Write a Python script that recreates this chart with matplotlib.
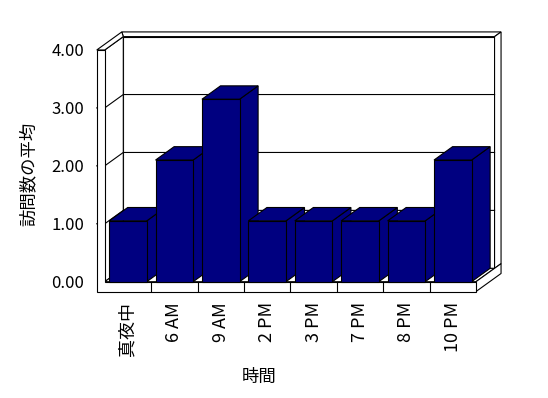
import matplotlib.pyplot as plt
from matplotlib.patches import Polygon
import numpy as np

plt.rcParams['font.family'] = ['Noto Sans CJK JP', 'DejaVu Sans']

# データ
categories = ['真夜中', '6 AM', '9 AM', '2 PM', '3 PM', '7 PM', '8 PM', '10 PM']
values = [1.05, 2.10, 3.15, 1.05, 1.05, 1.05, 1.05, 2.10]
yticks = [0, 1, 2, 3, 4]
ytick_labels = ['0.00', '1.00', '2.00', '3.00', '4.00']

bar_color = '#000080'
DX, DY = 0.40, 0.231      # 奥行き方向のずれ (データ単位)
wall = 0.172              # 左壁の厚さ
floor_h = 0.17            # 床の厚さ
back_t = 0.35             # 奥壁の厚さ (奥行き比)
bar_w = 0.81
n = len(categories)
x0, x1 = -0.5, n - 0.5
ymax = yticks[-1]
xo = x0 - wall
yb = -floor_h


def p(x, y, d):
    return (x + d * DX, y + d * DY)


fig = plt.figure(figsize=(5.48, 3.98), dpi=100)
ax = fig.add_axes([0.1911, 0.2922, 0.6775, 0.5822])
ax.set_xlim(x0, x1)
ax.set_ylim(0, ymax)
ax.patch.set_visible(False)
for s in ax.spines.values():
    s.set_visible(False)


def face(pts, z, fc='white'):
    ax.add_patch(Polygon(pts, closed=True, fc=fc, ec='black', lw=0.8,
                         zorder=z, clip_on=False, joinstyle='miter'))


# 奥壁・左壁
face([p(x0, 0, 1), p(x1, 0, 1), p(x1, ymax, 1), p(x0, ymax, 1)], 1)
face([p(x0, ymax, 1), p(x1, ymax, 1), p(x1, ymax, 1 + back_t), p(xo, ymax, 1 + back_t)], 1)
face([p(x1, 0, 1), p(x1, ymax, 1), p(x1, ymax, 1 + back_t), p(x1, 0, 1 + back_t)], 1)
face([p(x0, 0, 0), p(x0, 0, 1), p(x0, ymax, 1), p(x0, ymax, 0)], 1)
face([p(xo, ymax, 0), p(x0, ymax, 0), p(x0, ymax, 1), p(xo, ymax, 1 + back_t)], 1)

# 目盛線
for v in yticks[1:-1]:
    a = p(x0, v, 1)
    b = p(x1, v, 1)
    ax.plot([xo, x0, a[0], b[0]], [v, v, a[1], b[1]], color='black', lw=0.8,
            zorder=1.5, clip_on=False)

# 床
face([p(x0, 0, 0), p(x1, 0, 0), p(x1, 0, 1), p(x0, 0, 1)], 2)
face([p(x1, yb, 0), p(x1, 0, 0), p(x1, 0, 1 + back_t), p(x1, yb, 1 + back_t)], 2)
face([(xo, yb), (x1, yb), (x1, 0), (x0, 0), (x0, ymax), (xo, ymax)], 3)
ax.vlines(np.arange(0.5, n - 1), yb, 0, color='black', lw=0.8, zorder=3.5, clip_on=False)

# 棒
for i, v in enumerate(values):
    l, r = i - bar_w / 2, i + bar_w / 2
    z = 4 + i * 0.1
    face([p(r, 0, 0), p(r, 0, 1), p(r, v, 1), p(r, v, 0)], z, bar_color)
    face([p(l, v, 0), p(r, v, 0), p(r, v, 1), p(l, v, 1)], z, bar_color)
    face([(l, 0), (r, 0), (r, v), (l, v)], z, bar_color)

ax.set_yticks(yticks)
ax.set_yticklabels(ytick_labels, fontsize=12)
ax.set_xticks(range(n))
ax.set_xticklabels(categories, rotation=90, fontsize=13)
ax.tick_params(axis='y', length=0, pad=14.9)
ax.tick_params(axis='x', length=0, pad=14.6)

fig.text(28.5 / 548, 1 - 174 / 398, '訪問数の平均', rotation=90, fontsize=12.5,
         ha='center', va='center')
fig.text(259 / 548, 1 - 376.5 / 398, '時間', fontsize=12.5, ha='center', va='center')

plt.savefig('out.png', dpi=100)
